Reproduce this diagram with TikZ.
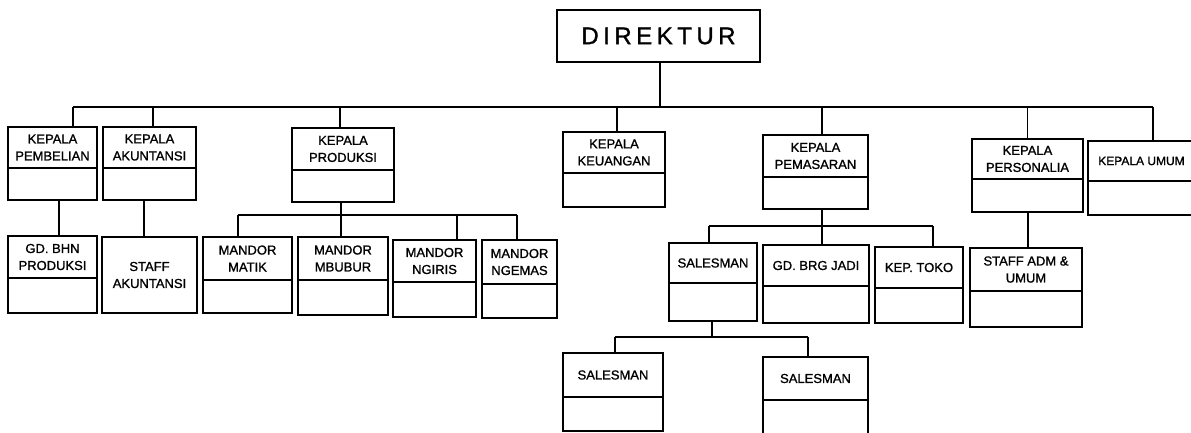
\documentclass[tikz,border=0pt]{standalone}
\usepackage{fontspec}
\setmainfont{Liberation Sans}
\newfontfamily\lblfont[FakeBold=1.2]{Liberation Sans}
\tikzset{
  box/.style={draw=black, line width=2.1pt, inner sep=0pt, outer sep=0pt, rectangle},
  divline/.style={line width=1.8pt},
  conn/.style={line width=1.2pt},
  lbl/.style={align=center, inner sep=0pt, font=\lblfont\fontsize{13}{17}\selectfont},
}
% name, x1, y1, x2, y2, ydiv, text
\newcommand\obox[7]{%
  \node[box, minimum width={#4-#2}, minimum height={#5-#3}] (#1) at ({(#2+#4)/2},{(#3+#5)/2}) {};
  \draw[divline] (#2,#6) -- (#4,#6);
  \node[lbl] (#1-t) at ({(#2+#4)/2},{(#3+#6)/2}) {#7};
}
% node, shift, bus coordinate
\newcommand\stemup[3]{\draw[conn] ([xshift=#2pt]#1.north) -- ([xshift=#2pt]#1.north |- #3);}
\begin{document}
\begin{tikzpicture}[x=1pt,y=-1pt]
\useasboundingbox (0,0) rectangle (1191,433);
\clip (0,0) rectangle (1191,433);

% Direktur
\node[box, minimum width=203, minimum height=52, font=\lblfont\fontsize{24}{28}\selectfont] (dir) at (658.5,36)
  {D\kern4.5pt I\kern4.5pt R\kern4.5pt E\kern4.5pt K\kern4.5pt T\kern4.5pt U\kern4.5pt R};

% level 1
\obox{pemb}{8}{127}{97}{200}{168}{KEPALA\\PEMBELIAN}
\obox{akun}{103}{127}{196}{200}{168}{KEPALA\\AKUNTANSI}
\obox{prod}{292}{128}{394}{202}{170}{KEPALA\\PRODUKSI}
\obox{keu}{563}{132}{665}{207}{173}{KEPALA\\KEUANGAN}
\obox{pem}{763}{135}{868}{209}{177}{KEPALA\\PEMASARAN}
\obox{pers}{972}{139}{1083}{212}{179}{KEPALA\\PERSONALIA}
\node[box, minimum width=122, minimum height=74] (umum) at (1149,178) {};
\draw[divline] (1088,181) -- (1210,181);
\node[lbl, font=\lblfont\fontsize{12}{17}\selectfont] (umum-t) at (1141.5,161) {KEPALA UMUM};

% level 2
\obox{gdbhn}{8}{236}{97}{313}{278}{GD. BHN\\PRODUKSI}
\node[box, minimum width=95, minimum height=76] (staffak) at (149.5,275) {};
\node[lbl] (staffak-t) at (149.5,275) {STAFF\\AKUNTANSI};
\obox{matik}{203}{237}{292}{313}{280}{MANDOR\\MATIK}
\obox{mbubur}{298}{237}{388}{315}{280}{MANDOR\\MBUBUR}
\obox{ngiris}{393}{240}{476}{317}{282}{MANDOR\\NGIRIS}
\obox{ngemas}{482}{240}{557}{318}{284}{MANDOR\\NGEMAS}
\obox{sales}{669}{243}{757}{321}{283}{SALESMAN}
\obox{gdbrg}{763}{245}{869}{323}{286}{GD. BRG JADI}
\obox{toko}{875}{247}{963}{323}{288}{KEP. TOKO}
\obox{staffadm}{970}{248}{1082}{327}{291}{STAFF ADM \&\\UMUM}

% level 3
\obox{sone}{563}{353}{663}{431}{397}{SALESMAN}
\obox{stwo}{763}{357}{868}{440}{400}{SALESMAN}

% buses
\coordinate (busL) at (0,107);
\coordinate (busP) at (0,215);
\coordinate (busM) at (0,226);
\coordinate (busS) at (0,337);

% main bus
\draw[conn] ([xshift=1.5pt]dir.south) -- ([xshift=1.5pt]dir.south |- busL);
\draw[conn] ([xshift=20.5pt]pemb.north |- busL) -- ([xshift=4pt]umum.north |- busL);
\stemup{pemb}{20.5}{busL}
\stemup{akun}{3.5}{busL}
\stemup{prod}{-3}{busL}
\stemup{keu}{3}{busL}
\stemup{pem}{6.5}{busL}
\stemup{pers}{0}{busL}
\stemup{umum}{4}{busL}

% direct links
\draw[conn] ([xshift=6.5pt]pemb.south) -- ([xshift=6.5pt]pemb.south |- gdbhn.north);
\draw[conn] ([xshift=-5.5pt]akun.south) -- ([xshift=-5.5pt]akun.south |- staffak.north);
\draw[conn] ([xshift=0.5pt]pers.south) -- ([xshift=0.5pt]pers.south |- staffadm.north);

% produksi
\draw[conn] ([xshift=-2pt]prod.south) -- ([xshift=-2pt]prod.south |- busP);
\draw[conn] ([xshift=-9.5pt]matik.north |- busP) -- ([xshift=-2.5pt]ngemas.north |- busP);
\stemup{matik}{-9.5}{busP}
\stemup{mbubur}{-2}{busP}
\stemup{ngiris}{22.5}{busP}
\stemup{ngemas}{-2.5}{busP}

% pemasaran
\draw[conn] ([xshift=6.5pt]pem.south) -- ([xshift=6.5pt]pem.south |- busM);
\draw[conn] ([xshift=-4pt]sales.north |- busM) -- ([xshift=14pt]toko.north |- busM);
\stemup{sales}{-4}{busM}
\stemup{gdbrg}{6}{busM}
\stemup{toko}{14}{busM}

% salesman
\draw[conn] ([xshift=-1pt]sales.south) -- ([xshift=-1pt]sales.south |- busS);
\draw[conn] ([xshift=2pt]sone.north |- busS) -- ([xshift=-7.5pt]stwo.north |- busS);
\stemup{sone}{2}{busS}
\stemup{stwo}{-7.5}{busS}
\end{tikzpicture}
\end{document}
